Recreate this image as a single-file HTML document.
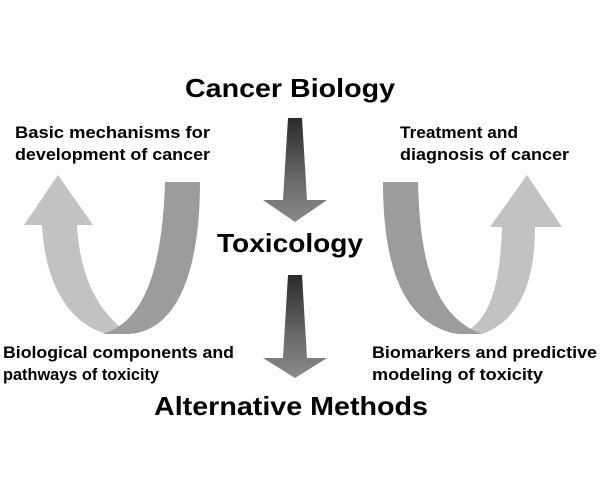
<!DOCTYPE html>
<html><head><meta charset="utf-8"><style>
html,body{margin:0;padding:0;background:#fff;}
svg{display:block;}
text{font-family:"Liberation Sans",Arial,sans-serif;font-weight:bold;fill:#000;}
</style></head><body>
<svg width="600" height="490" viewBox="0 0 600 490" xmlns="http://www.w3.org/2000/svg">
<defs>
<linearGradient id="g1" x1="0" y1="0" x2="0" y2="1">
<stop offset="0" stop-color="#2a2a2a"/><stop offset="0.6" stop-color="#6a6a6a"/><stop offset="1" stop-color="#8a8a8a"/>
</linearGradient>
</defs>
<rect width="600" height="490" fill="#fff"/>
<!-- center arrows -->
<path d="M288,118 L302,118 L307,200 L327,200 L295,222 L263,200 L283,200 Z" fill="url(#g1)"/>
<path d="M288,275 L302,275 L307,358 L327,358 L295,378 L263,358 L283,358 Z" fill="url(#g1)"/>
<!-- left U -->
<path d="M42,225 C45,285 70,325 108,334 L125,331 C100,312 80,280 77,225 L93,225 L58,175 L24,225 Z" fill="#c2c2c2"/>
<path d="M165,182 L200,182 C200,270 178,330 130,334 L103,334 C140,322 162,280 165,182 Z" fill="#9c9c9c"/>
<!-- right U -->
<path d="M502,227 C500,290 488,322 462,334 L482,334 C515,322 535,290 535,227 L562,227 L527,175 L490,227 Z" fill="#c2c2c2"/>
<path d="M383,182 L418,182 C420,275 440,318 482,334 L458,334 C405,325 383,270 383,182 Z" fill="#9c9c9c"/>
<!-- text -->
<text x="185" y="97" font-size="26" textLength="210" lengthAdjust="spacingAndGlyphs">Cancer Biology</text>
<text x="217" y="252" font-size="26" textLength="146" lengthAdjust="spacingAndGlyphs">Toxicology</text>
<text x="154" y="415" font-size="26" textLength="274" lengthAdjust="spacingAndGlyphs">Alternative Methods</text>
<text x="15" y="138" font-size="17" textLength="195" lengthAdjust="spacingAndGlyphs">Basic mechanisms for</text>
<text x="15" y="160" font-size="17" textLength="195" lengthAdjust="spacingAndGlyphs">development of cancer</text>
<text x="400" y="138" font-size="17" textLength="118" lengthAdjust="spacingAndGlyphs">Treatment and</text>
<text x="400" y="160" font-size="17" textLength="169" lengthAdjust="spacingAndGlyphs">diagnosis of cancer</text>
<text x="3" y="358" font-size="17" textLength="231" lengthAdjust="spacingAndGlyphs">Biological components and</text>
<text x="3" y="380" font-size="17" textLength="156" lengthAdjust="spacingAndGlyphs">pathways of toxicity</text>
<text x="372" y="358" font-size="17" textLength="225" lengthAdjust="spacingAndGlyphs">Biomarkers and predictive</text>
<text x="372" y="380" font-size="17" textLength="171" lengthAdjust="spacingAndGlyphs">modeling of toxicity</text>
</svg>
</body></html>
